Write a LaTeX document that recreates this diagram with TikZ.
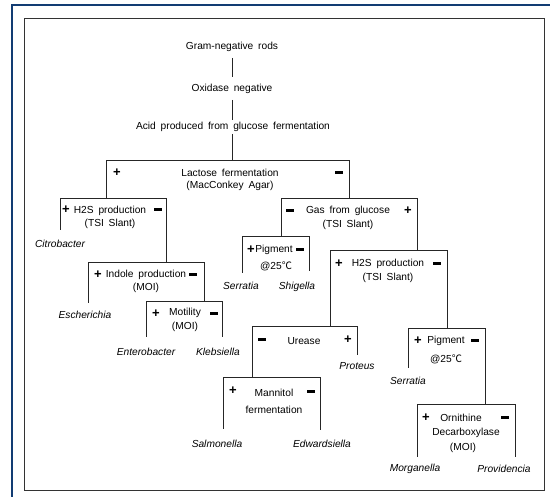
\documentclass[tikz,border=0pt]{standalone}
\usepackage{fontspec}
\setmainfont[WordSpace=1.7]{Liberation Sans}
\newfontfamily\cjk{Noto Sans CJK KR}
\definecolor{frameblue}{RGB}{18,60,115}
\newcommand\mns{\rule[0.28em]{0.62em}{0.2em}}
\newcommand\pls{\textbf{+}}
\newcommand\degc{{\cjk ℃}}
\begin{document}
\begin{tikzpicture}[x=1pt,y=-1pt,
  txt/.style={inner sep=0pt,font=\fontsize{10.2}{11}\selectfont},
  leaf/.style={inner sep=0pt,font=\fontsize{10.2}{11}\selectfont\itshape},
  sgn/.style={inner sep=0pt,font=\fontsize{11.5}{12}\selectfont},
  psg/.style={inner sep=0pt,font=\fontsize{13}{13}\selectfont},
  br/.style={line width=0.9pt,draw=black!85}]
\useasboundingbox (0,0) rectangle (550,497);
% frames
\draw[frameblue,line width=2pt] (12,497) -- (12,5) -- (551,5);
\draw[black!80,line width=0.9pt] (24.5,18.5) rectangle (544,490);

% top chain
\node[txt] (gram) at (232,47) {Gram-negative rods};
\node[txt] (oxi) at (232,89) {Oxidase negative};
\node[txt] (acid) at (233,127) {Acid produced from glucose fermentation};
\coordinate (g1) at (232,58); \coordinate (g2) at (232,77);
\coordinate (o1) at (232,100); \coordinate (o2) at (232,120);
\coordinate (a1) at (232,134);
\draw[br] (g1) -- (g2);
\draw[br] (o1) -- (o2);

% Lactose
\coordinate (lacTL) at (106,160); \coordinate (lacTR) at (349,160);
\coordinate (lacL) at (106,198); \coordinate (lacR) at (349,198);
\draw[br] (a1) -- (a1 |- lacTL);
\draw[br] (lacL) -- (lacTL) -- (lacTR) -- (lacR);
\node[psg] (lacP) at (117,173) {\pls};
\node[txt] (lac1) at (230,173) {Lactose fermentation};
\node[txt] (lac2) at (230,186) {(MacConkey Agar)};
\node[sgn] (lacM) at (339,174) {\mns};

% H2S 1
\coordinate (h1TL) at (60,198); \coordinate (h1TR) at (166,198);
\coordinate (h1L) at (60,230); \coordinate (h1R) at (166,262);
\draw[br] (h1L) -- (h1TL) -- (h1TR) -- (h1R);
\node[psg] (h1P) at (66,210) {\pls};
\node[txt] (h1a) at (110,211) {H2S production};
\node[sgn] (h1M) at (158,211) {\mns};
\node[txt] (h1b) at (110,224) {(TSI Slant)};
\node[leaf] (cit) at (60,244) {Citrobacter};

% Indole
\coordinate (inTL) at (88,262); \coordinate (inTR) at (204,262);
\coordinate (inL) at (88,303); \coordinate (inR) at (204,301);
\draw[br] (inL) -- (inTL) -- (inTR) -- (inR);
\node[psg] (inP) at (98,275) {\pls};
\node[txt] (in1) at (146,275) {Indole production};
\node[sgn] (inM) at (193,276) {\mns};
\node[txt] (in2) at (146,288) {(MOI)};
\node[leaf] (esc) at (85,315) {Escherichia};

% Motility
\coordinate (moTL) at (146,301); \coordinate (moTR) at (222,301);
\coordinate (moL) at (146,337); \coordinate (moR) at (222,337);
\draw[br] (moL) -- (moTL) -- (moTR) -- (moR);
\node[psg] (moP) at (156,314) {\pls};
\node[txt] (mo1) at (185,313) {Motility};
\node[sgn] (moM) at (214,315) {\mns};
\node[txt] (mo2) at (185,327) {(MOI)};
\node[leaf] (ent) at (146,352) {Enterobacter};
\node[leaf] (kle) at (218,352) {Klebsiella};

% Gas
\coordinate (gaTL) at (281,198); \coordinate (gaTR) at (417,198);
\coordinate (gaL) at (281,236); \coordinate (gaR) at (417,250);
\draw[br] (gaL) -- (gaTL) -- (gaTR) -- (gaR);
\node[sgn] (gaM) at (290,212) {\mns};
\node[txt] (ga1) at (348,211) {Gas from glucose};
\node[psg] (gaP) at (408,211) {\pls};
\node[txt] (ga2) at (348,225) {(TSI Slant)};

% Pigment 1
\coordinate (p1TL) at (242,236); \coordinate (p1TR) at (309,236);
\coordinate (p1L) at (242,273); \coordinate (p1R) at (309,271);
\draw[br] (p1L) -- (p1TL) -- (p1TR) -- (p1R);
\node[psg] (p1P) at (251,250) {\pls};
\node[txt] (p1a) at (274,250) {Pigment};
\node[sgn] (p1M) at (300,251) {\mns};
\node[txt] (p1b) at (276,266) {@25\degc};
\node[leaf] (ser1) at (241,286) {Serratia};
\node[leaf] (shi) at (297,287) {Shigella};

% H2S 2
\coordinate (h2TL) at (330,250); \coordinate (h2TR) at (447,250);
\coordinate (h2L) at (330,326); \coordinate (h2R) at (447,328);
\draw[br] (h2L) -- (h2TL) -- (h2TR) -- (h2R);
\node[psg] (h2P) at (339,264) {\pls};
\node[txt] (h2a) at (388,264) {H2S production};
\node[sgn] (h2M) at (437,265) {\mns};
\node[txt] (h2b) at (388,278) {(TSI Slant)};

% Urease
\coordinate (urTL) at (252,326); \coordinate (urTR) at (357,326);
\coordinate (urL) at (252,377); \coordinate (urR) at (357,355);
\draw[br] (urL) -- (urTL) -- (urTR) -- (urR);
\node[sgn] (urM) at (262,341) {\mns};
\node[txt] (ur1) at (304,341) {Urease};
\node[psg] (urP) at (348,340) {\pls};
\node[leaf] (pro) at (357,366) {Proteus};

% Mannitol
\coordinate (maTL) at (223,377); \coordinate (maTR) at (320,377);
\coordinate (maL) at (223,429); \coordinate (maR) at (320,430);
\draw[br] (maL) -- (maTL) -- (maTR) -- (maR);
\node[psg] (maP) at (233,391) {\pls};
\node[txt] (ma1) at (274,393) {Mannitol};
\node[sgn] (maM) at (311,393) {\mns};
\node[txt] (ma2) at (274,410) {fermentation};
\node[leaf] (sal) at (217,444) {Salmonella};
\node[leaf] (edw) at (322,444) {Edwardsiella};

% Pigment 2
\coordinate (p2TL) at (408,328); \coordinate (p2TR) at (485,328);
\coordinate (p2L) at (408,368); \coordinate (p2R) at (485,404);
\draw[br] (p2L) -- (p2TL) -- (p2TR) -- (p2R);
\node[psg] (p2P) at (418,341) {\pls};
\node[txt] (p2a) at (446,341) {Pigment};
\node[sgn] (p2M) at (475,342) {\mns};
\node[txt] (p2b) at (446,359) {@25\degc};
\node[leaf] (ser2) at (408,381) {Serratia};

% Ornithine
\coordinate (orTL) at (417,404); \coordinate (orTR) at (515,404);
\coordinate (orL) at (417,457); \coordinate (orR) at (515,457);
\draw[br] (orL) -- (orTL) -- (orTR) -- (orR);
\node[psg] (orP) at (426,418) {\pls};
\node[txt] (or1) at (461,418) {Ornithine};
\node[sgn] (orM) at (505,419) {\mns};
\node[txt] (or2) at (466,433) {Decarboxylase};
\node[txt] (or3) at (463,448) {(MOI)};
\node[leaf] (mor) at (415,469) {Morganella};
\node[leaf] (prv) at (504,469) {Providencia};
\end{tikzpicture}
\end{document}
